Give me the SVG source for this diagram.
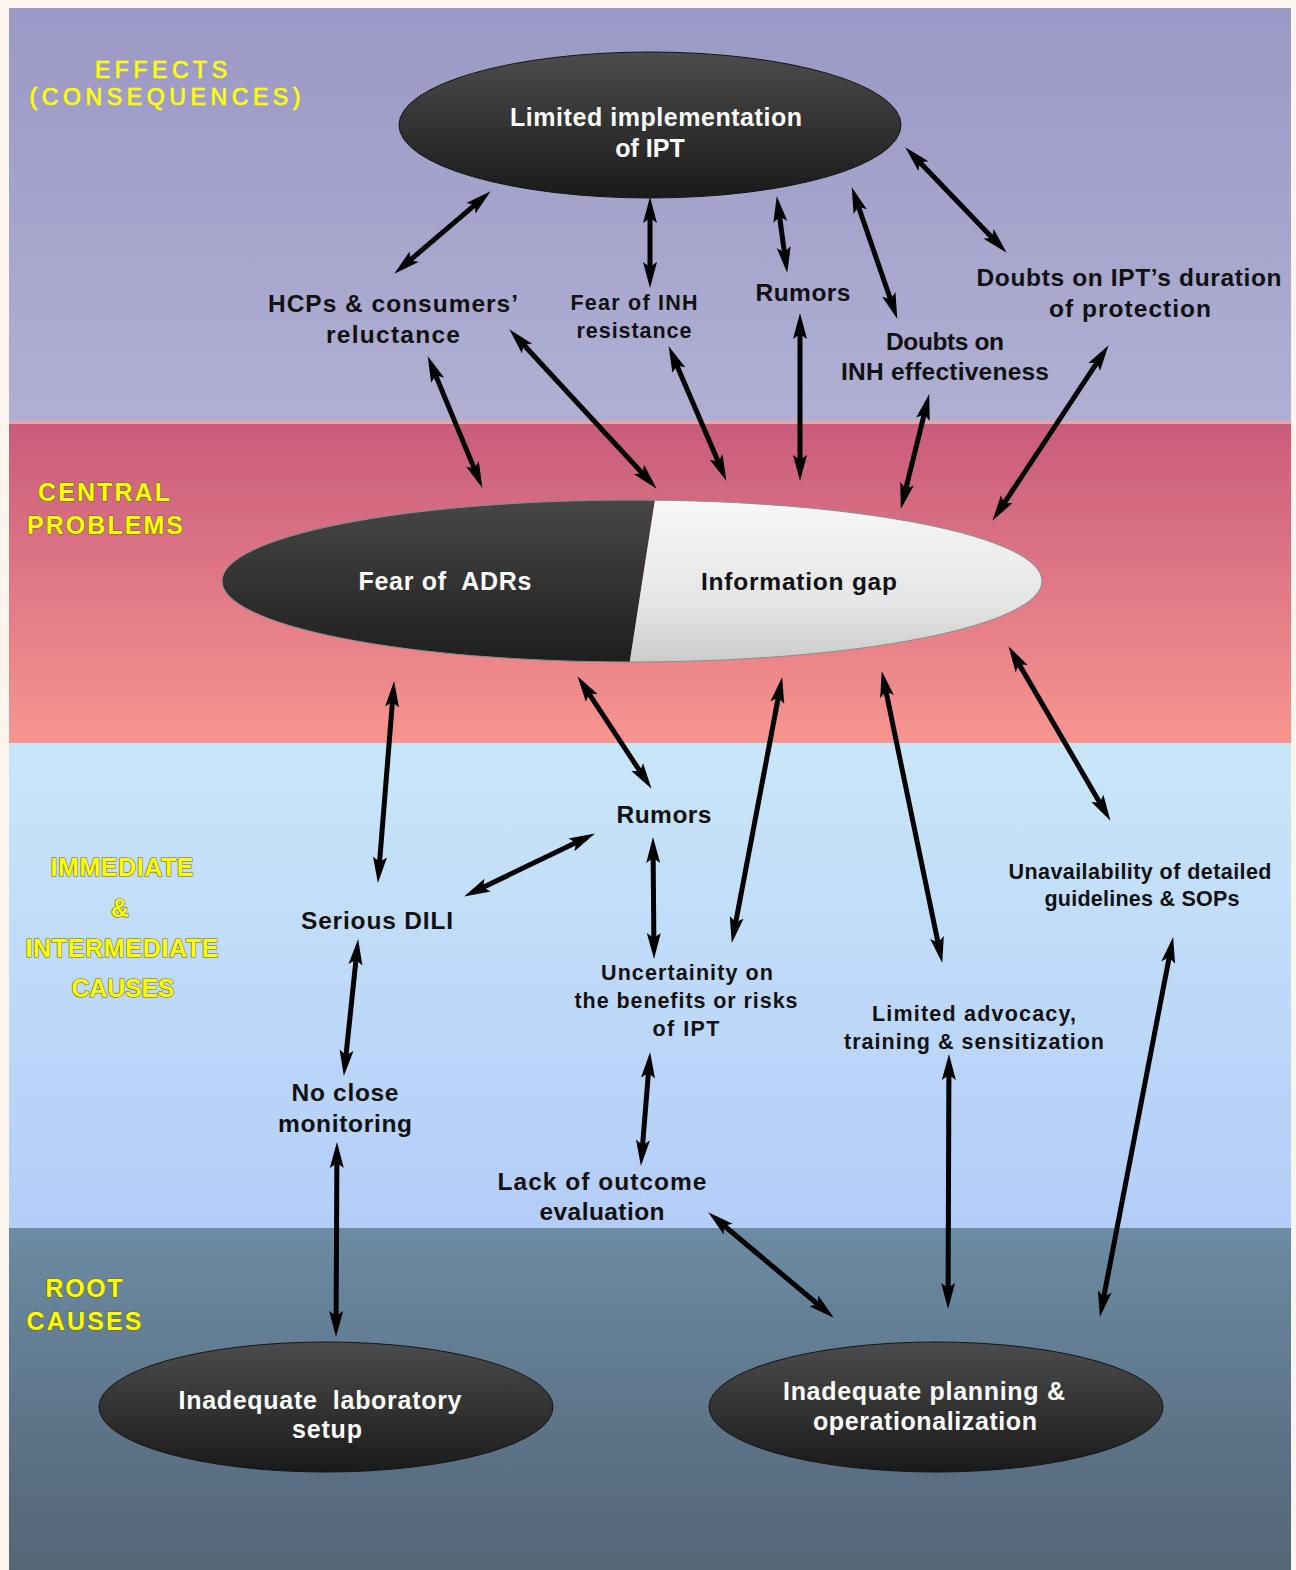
<svg xmlns="http://www.w3.org/2000/svg" width="1296" height="1570" viewBox="0 0 1296 1570">
<defs>
<linearGradient id="b1" x1="0" y1="0" x2="0" y2="1"><stop offset="0" stop-color="#9b99c5"/><stop offset="1" stop-color="#b0afd3"/></linearGradient>
<linearGradient id="b2" x1="0" y1="0" x2="0" y2="1"><stop offset="0" stop-color="#c95c7c"/><stop offset="0.5" stop-color="#e07886"/><stop offset="1" stop-color="#f8958f"/></linearGradient>
<linearGradient id="b3" x1="0" y1="0" x2="0" y2="1"><stop offset="0" stop-color="#c9e6f9"/><stop offset="1" stop-color="#b4cdf8"/></linearGradient>
<linearGradient id="b4" x1="0" y1="0" x2="0" y2="1"><stop offset="0" stop-color="#6b8ca4"/><stop offset="0.6" stop-color="#5d7388"/><stop offset="1" stop-color="#556676"/></linearGradient>
<linearGradient id="dark" x1="0" y1="0" x2="0" y2="1"><stop offset="0" stop-color="#4c4c4c"/><stop offset="0.5" stop-color="#333"/><stop offset="1" stop-color="#1a1a1a"/></linearGradient>
<linearGradient id="light" x1="0" y1="0" x2="0" y2="1"><stop offset="0" stop-color="#fafafa"/><stop offset="0.6" stop-color="#e6e6e6"/><stop offset="1" stop-color="#c4c4c4"/></linearGradient>
<clipPath id="cclip"><ellipse cx="632" cy="581" rx="410" ry="81"/></clipPath>
<marker id="ah" markerUnits="userSpaceOnUse" markerWidth="32" markerHeight="18" refX="0" refY="0" viewBox="-13 -9 30 18" orient="auto-start-reverse" overflow="visible">
<path d="M15,0 L-11,-7 L-6,0 L-11,7 Z" fill="#000"/>
</marker>
<style>
.ell{fill:url(#dark);stroke:#151515;stroke-width:1}
.wt{font-family:"Liberation Sans",Arial,sans-serif;font-weight:bold;fill:#fff;text-anchor:middle;font-size:25px}
.bt{font-family:"Liberation Sans",Arial,sans-serif;font-weight:bold;fill:#111;text-anchor:middle;font-size:24.5px}
.st{font-size:21.5px}
.yl{font-family:"Liberation Sans",Arial,sans-serif;fill:#ffff00;text-anchor:middle;font-size:25px}
.ye{font-size:23px;stroke:#ffff00;stroke-width:0.7}
.yb{font-weight:bold;stroke:#6b6a2a;stroke-width:1.2;paint-order:stroke}
.arr line{stroke:#000;stroke-width:5;marker-start:url(#ah);marker-end:url(#ah)}
</style>
</defs>
<rect x="0" y="0" width="1296" height="1570" fill="#fbf5ee"/>
<g id="bands">
<rect x="9" y="8" width="1282" height="414" fill="url(#b1)"/>
<rect x="9" y="421" width="1282" height="3" fill="#e7a5a8"/>
<rect x="9" y="424" width="1282" height="320" fill="url(#b2)"/>
<rect x="9" y="743" width="1282" height="486" fill="url(#b3)"/>
<rect x="9" y="1228" width="1282" height="342" fill="url(#b4)"/>
</g>
<g id="band-labels">
<text class="yl ye" x="161" y="78" textLength="132">EFFECTS</text>
<text class="yl ye" x="165" y="105" textLength="271">(CONSEQUENCES)</text>
<text class="yl yb" x="104" y="501" textLength="132">CENTRAL</text>
<text class="yl yb" x="105" y="534" textLength="156">PROBLEMS</text>
<text class="yl yb" x="122" y="876" textLength="143">IMMEDIATE</text>
<text class="yl yb" x="120" y="917">&amp;</text>
<text class="yl yb" x="122" y="957" textLength="193">INTERMEDIATE</text>
<text class="yl yb" x="123" y="997" textLength="103">CAUSES</text>
<text class="yl yb" x="84" y="1297" textLength="77">ROOT</text>
<text class="yl yb" x="84" y="1330" textLength="115">CAUSES</text>
</g>
<g id="connectors" class="arr">
<line x1="479.3" y1="201.1" x2="405.7" y2="263.9"/>
<line x1="650" y1="212" x2="650" y2="273"/>
<line x1="778.8" y1="210.9" x2="785.2" y2="258.1"/>
<line x1="856.6" y1="201.2" x2="892.4" y2="304.8"/>
<line x1="915.7" y1="158.1" x2="996.3" y2="241.9"/>
<line x1="433.4" y1="369.9" x2="476.6" y2="474.1"/>
<line x1="519.5" y1="340.3" x2="646.5" y2="477.7"/>
<line x1="674.5" y1="359.9" x2="720.5" y2="467.1"/>
<line x1="800" y1="328" x2="800" y2="466"/>
<line x1="925.6" y1="408.6" x2="904.4" y2="494.4"/>
<line x1="1100.3" y1="357.7" x2="1000.7" y2="508.3"/>
<line x1="392.9" y1="696" x2="379.1" y2="868"/>
<line x1="585.7" y1="688.7" x2="643.3" y2="776.3"/>
<line x1="779.4" y1="691.8" x2="734.6" y2="928.2"/>
<line x1="884.8" y1="685.7" x2="939.2" y2="948.3"/>
<line x1="1016.1" y1="659.1" x2="1102.9" y2="807.9"/>
<line x1="581.4" y1="840.1" x2="477.6" y2="889.9"/>
<line x1="653.1" y1="852" x2="653.9" y2="944"/>
<line x1="356.6" y1="953.9" x2="345.4" y2="1061.1"/>
<line x1="648.9" y1="1067" x2="642.1" y2="1151"/>
<line x1="336.9" y1="1157" x2="336.1" y2="1322"/>
<line x1="719.7" y1="1222" x2="822.3" y2="1308"/>
<line x1="948.9" y1="1069" x2="948.1" y2="1294"/>
<line x1="1170.3" y1="951.7" x2="1102.7" y2="1302.3"/>
</g>
<g id="limited-implementation">
<ellipse class="ell" cx="650" cy="125" rx="251" ry="73"/>
<text class="wt" x="656" y="126" textLength="292">Limited implementation</text>
<text class="wt" x="650" y="157">of IPT</text>
</g>
<g id="central-problems">
<g clip-path="url(#cclip)">
<polygon points="200,480 658,480 627,680 200,680" fill="url(#dark)"/>
<polygon points="658,480 1060,480 1060,680 627,680" fill="url(#light)"/>
</g>
<ellipse cx="632" cy="581" rx="410" ry="81" fill="none" stroke="#8c8c8c" stroke-width="1"/>
<text class="wt" x="445" y="590" textLength="173" xml:space="preserve">Fear of  ADRs</text>
<text class="bt" x="799" y="590" textLength="196">Information gap</text>
</g>
<g id="hcp">
<text class="bt" x="393" y="312" textLength="250">HCPs &amp; consumers’</text>
<text class="bt" x="393" y="343" textLength="134">reluctance</text>
</g>
<g id="fear-inh">
<text class="bt st" x="634" y="310" textLength="127">Fear of INH</text>
<text class="bt st" x="634" y="338" textLength="115">resistance</text>
</g>
<g id="rumors-top">
<text class="bt" x="803" y="301" textLength="95">Rumors</text>
</g>
<g id="doubts-inh">
<text class="bt" x="945" y="350" textLength="118">Doubts on</text>
<text class="bt" x="945" y="380" textLength="208">INH effectiveness</text>
</g>
<g id="doubts-ipt">
<text class="bt" x="1129" y="286" textLength="305">Doubts on IPT’s duration</text>
<text class="bt" x="1130" y="317" textLength="162">of protection</text>
</g>
<g id="rumors-mid">
<text class="bt" x="664" y="823" textLength="95">Rumors</text>
</g>
<g id="serious-dili">
<text class="bt" x="377" y="929" textLength="152">Serious DILI</text>
</g>
<g id="unavailability">
<text class="bt st" x="1140" y="879" textLength="263">Unavailability of detailed</text>
<text class="bt st" x="1142" y="906" textLength="195">guidelines &amp; SOPs</text>
</g>
<g id="uncertainity">
<text class="bt st" x="687" y="980" textLength="172">Uncertainity on</text>
<text class="bt st" x="686" y="1008" textLength="223">the benefits or risks</text>
<text class="bt st" x="686" y="1036" textLength="67">of IPT</text>
</g>
<g id="limited-advocacy">
<text class="bt st" x="974" y="1021" textLength="204">Limited advocacy,</text>
<text class="bt st" x="974" y="1049" textLength="260">training &amp; sensitization</text>
</g>
<g id="no-close-monitoring">
<text class="bt" x="345" y="1101" textLength="107">No close</text>
<text class="bt" x="345" y="1132" textLength="134">monitoring</text>
</g>
<g id="lack-outcome">
<text class="bt" x="602" y="1190" textLength="209">Lack of outcome</text>
<text class="bt" x="602" y="1220" textLength="125">evaluation</text>
</g>
<g id="lab-setup">
<ellipse class="ell" cx="326" cy="1407" rx="227" ry="65"/>
<text class="wt" x="320" y="1409" textLength="283" xml:space="preserve">Inadequate  laboratory</text>
<text class="wt" x="327" y="1438" textLength="70">setup</text>
</g>
<g id="planning">
<ellipse class="ell" cx="936" cy="1407" rx="227" ry="65"/>
<text class="wt" x="924" y="1400" textLength="282">Inadequate planning &amp;</text>
<text class="wt" x="925" y="1430" textLength="224">operationalization</text>
</g>
</svg>
